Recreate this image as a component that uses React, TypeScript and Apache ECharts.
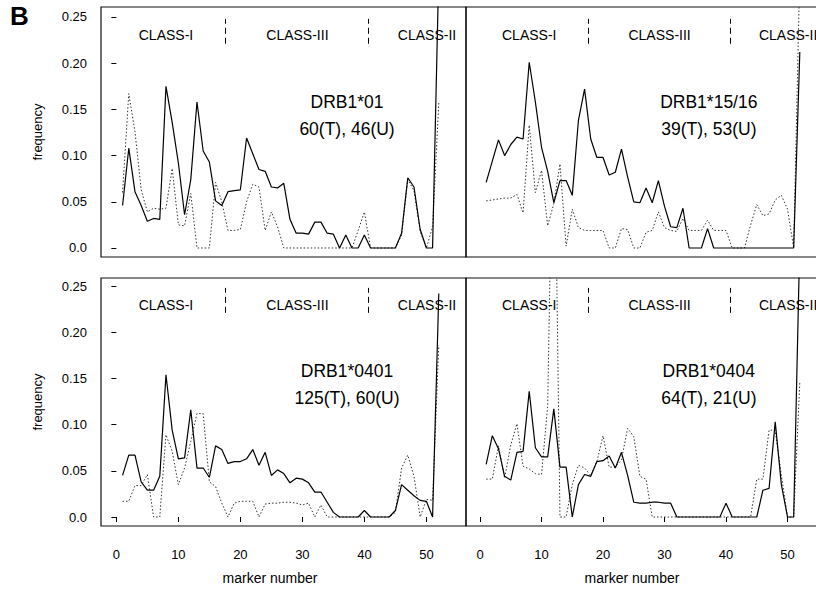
import React, { useEffect, useRef } from "react";
import * as echarts from "echarts";

// ---------- data ----------
const markers = [
  1, 2, 3, 4, 5, 6, 7, 8, 9, 10, 11, 12, 13, 14, 15, 16, 17, 18, 19, 20, 21, 22, 23, 24, 25, 26,
  27, 28, 29, 30, 31, 32, 33, 34, 35, 36, 37, 38, 39, 40, 41, 42, 43, 44, 45, 46, 47, 48, 49, 50, 51, 52,
];

const drb01T = [
  0.046, 0.108, 0.061, 0.046, 0.029, 0.032, 0.031, 0.175, 0.136, 0.092, 0.036, 0.074, 0.158,
  0.105, 0.093, 0.051, 0.046, 0.061, 0.062, 0.063, 0.119, 0.102, 0.085, 0.083, 0.066, 0.065,
  0.070, 0.031, 0.016, 0.016, 0.015, 0.028, 0.028, 0.016, 0.015, 0.0, 0.014, 0.0, 0.0, 0.014,
  0.0, 0.0, 0.0, 0.0, 0.0, 0.016, 0.076, 0.066, 0.020, 0.0, 0.0, 0.3,
];
const drb01U = [
  0.060, 0.167, 0.126, 0.063, 0.039, 0.043, 0.042, 0.043, 0.086, 0.025, 0.024, 0.059, 0.0,
  0.0, 0.0, 0.071, 0.050, 0.019, 0.019, 0.020, 0.050, 0.069, 0.066, 0.019, 0.039, 0.023,
  0.0, 0.0, 0.0, 0.0, 0.0, 0.0, 0.0, 0.0, 0.0, 0.0, 0.0, 0.0, 0.019, 0.039,
  0.0, 0.0, 0.0, 0.0, 0.0, 0.014, 0.074, 0.062, 0.018, 0.0, 0.023, 0.157,
];

const drb1516T = [
  0.071, 0.094, 0.117, 0.100, 0.112, 0.120, 0.118, 0.201, 0.158, 0.109, 0.083, 0.049, 0.073,
  0.073, 0.057, 0.138, 0.172, 0.118, 0.098, 0.098, 0.079, 0.082, 0.107, 0.077, 0.050, 0.049,
  0.065, 0.049, 0.073, 0.045, 0.023, 0.022, 0.043, 0.0, 0.0, 0.0, 0.021, 0.0, 0.0, 0.0,
  0.0, 0.0, 0.0, 0.0, 0.0, 0.0, 0.0, 0.0, 0.0, 0.0, 0.0, 0.212,
];
const drb1516U = [
  0.051, 0.052, 0.053, 0.054, 0.054, 0.058, 0.038, 0.133, 0.060, 0.084, 0.024, 0.048, 0.091,
  0.002, 0.042, 0.022, 0.019, 0.019, 0.019, 0.019, 0.0, 0.0, 0.021, 0.020, 0.0, 0.0,
  0.017, 0.019, 0.039, 0.022, 0.019, 0.018, 0.032, 0.019, 0.019, 0.019, 0.030, 0.019, 0.019, 0.019,
  0.0, 0.0, 0.0, 0.025, 0.047, 0.035, 0.037, 0.052, 0.057, 0.042, 0.0, 0.3,
];

const drb0401T = [
  0.045, 0.067, 0.067, 0.038, 0.029, 0.029, 0.044, 0.154, 0.094, 0.063, 0.064, 0.116, 0.053,
  0.053, 0.043, 0.077, 0.073, 0.058, 0.060, 0.060, 0.063, 0.073, 0.056, 0.070, 0.045, 0.051,
  0.047, 0.037, 0.042, 0.041, 0.037, 0.027, 0.027, 0.016, 0.005, 0.0, 0.0, 0.0, 0.0, 0.007,
  0.0, 0.0, 0.0, 0.0, 0.007, 0.035, 0.029, 0.023, 0.018, 0.017, 0.0, 0.242,
];
const drb0401U = [
  0.017, 0.017, 0.034, 0.034, 0.046, 0.0, 0.0, 0.089, 0.071, 0.035, 0.053, 0.082, 0.112,
  0.112, 0.038, 0.033, 0.015, 0.0, 0.015, 0.017, 0.017, 0.017, 0.0, 0.014, 0.015, 0.015,
  0.016, 0.016, 0.015, 0.013, 0.015, 0.0, 0.013, 0.0, 0.0, 0.0, 0.0, 0.0, 0.0, 0.0,
  0.0, 0.0, 0.0, 0.0, 0.005, 0.053, 0.067, 0.044, 0.0, 0.019, 0.018, 0.186,
];

const drb0404T = [
  0.057, 0.088, 0.074, 0.044, 0.040, 0.070, 0.071, 0.136, 0.075, 0.065, 0.065, 0.117, 0.054,
  0.054, 0.0, 0.035, 0.046, 0.044, 0.060, 0.061, 0.066, 0.053, 0.070, 0.045, 0.016, 0.015,
  0.015, 0.016, 0.016, 0.015, 0.015, 0.0, 0.0, 0.0, 0.0, 0.0, 0.0, 0.0, 0.0, 0.015,
  0.0, 0.0, 0.0, 0.0, 0.0, 0.029, 0.031, 0.103, 0.035, 0.0, 0.0, 0.3,
];
const drb0404U = [
  0.041, 0.041, 0.077, 0.042, 0.078, 0.101, 0.055, 0.052, 0.047, 0.046, 0.12, 0.5, 0.0,
  0.0, 0.035, 0.056, 0.053, 0.045, 0.060, 0.088, 0.054, 0.054, 0.062, 0.096, 0.087, 0.044,
  0.041, 0.0, 0.0, 0.0, 0.0, 0.0, 0.0, 0.0, 0.0, 0.0, 0.0, 0.0, 0.0, 0.0,
  0.0, 0.0, 0.0, 0.0, 0.041, 0.041, 0.094, 0.094, 0.045, 0.0, 0.0, 0.146,
];

const panelNames = ["DRB1*01", "DRB1*15/16", "DRB1*0401", "DRB1*0404"];
const panelCounts = ["60(T), 46(U)", "39(T), 53(U)", "125(T), 60(U)", "64(T), 21(U)"];
const panelT = [drb01T, drb1516T, drb0401T, drb0404T];
const panelU = [drb01U, drb1516U, drb0401U, drb0404U];

const classLabels = ["CLASS-I", "CLASS-III", "CLASS-II"];
const classLabelX = [8.0, 29.2, 50.1];
const classDividerX = [17.6, 40.7];

const yTicks = [0, 0.05, 0.1, 0.15, 0.2, 0.25];
const yTickLabels = ["0.0", "0.05", "0.10", "0.15", "0.20", "0.25"];
const xTicks = [0, 10, 20, 30, 40, 50];

// ---------- layout ----------
const FONT = "'Liberation Sans', Arial, Helvetica, sans-serif";
const CHART_W = 850;
const grids = [
  { left: 101, top: 7, width: 365, height: 250 },
  { left: 466, top: 7, width: 365, height: 250 },
  { left: 101, top: 278, width: 365, height: 248 },
  { left: 466, top: 278, width: 365, height: 248 },
];
const xRanges = [
  [-2.48, 56.39],
  [-2.28, 57.07],
  [-2.48, 56.39],
  [-2.28, 57.07],
];
const yRanges = [
  [-0.00974, 0.2608],
  [-0.00974, 0.2608],
  [-0.00974, 0.2587],
  [-0.00974, 0.2587],
];

export default function App() {
  const ref = useRef<HTMLDivElement>(null);

  useEffect(() => {
    if (!ref.current) return;
    const chart = echarts.init(ref.current, null, { renderer: "svg" });

    const xAxis = grids.map((_, i) => {
      const bottom = i >= 2;
      return {
        type: "value",
        gridIndex: i,
        min: xRanges[i][0],
        max: xRanges[i][1],
        axisLine: { show: false },
        splitLine: { show: false },
        axisTick: {
          show: bottom,
          inside: false,
          length: 5,
          customValues: xTicks,
          lineStyle: { color: "#000", width: 1 },
        },
        axisLabel: {
          show: bottom,
          customValues: xTicks,
          margin: 22,
          fontSize: 13,
          color: "#000",
          fontFamily: FONT,
        },
      };
    });

    const yAxis = grids.map((_, i) => {
      const left = i % 2 === 0;
      return {
        type: "value",
        gridIndex: i,
        min: yRanges[i][0],
        max: yRanges[i][1],
        axisLine: { show: false },
        splitLine: { show: false },
        name: left ? "frequency" : "",
        nameLocation: "middle",
        nameGap: 57,
        nameTextStyle: { fontSize: 13, color: "#000", fontFamily: FONT },
        axisTick: {
          show: left,
          inside: false,
          length: 5,
          customValues: yTicks,
          lineStyle: { color: "#000", width: 1 },
        },
        axisLabel: {
          show: left,
          customValues: yTicks,
          margin: 14,
          fontSize: 13,
          color: "#000",
          fontFamily: FONT,
          formatter: (v: number) => {
            const k = yTicks.findIndex((t) => Math.abs(t - v) < 1e-9);
            return k >= 0 ? yTickLabels[k] : "";
          },
        },
      };
    });

    const series: any[] = [];
    grids.forEach((_, i) => {
      series.push({
        type: "line",
        name: "T",
        xAxisIndex: i,
        yAxisIndex: i,
        data: markers.map((m, k) => [m, panelT[i][k]]),
        symbol: "none",
        clip: true,
        lineStyle: { color: "#000", width: 1.2 },
        z: 3,
        markLine: {
          silent: true,
          symbol: "none",
          label: { show: false },
          lineStyle: { color: "#000", width: 1, type: [6, 4] },
          data: classDividerX.map((x) => [
            { coord: [x, 0.221] },
            { coord: [x, 0.248] },
          ]),
        },
      });
      series.push({
        type: "line",
        name: "U",
        xAxisIndex: i,
        yAxisIndex: i,
        data: markers.map((m, k) => [m, panelU[i][k]]),
        symbol: "none",
        clip: true,
        lineStyle: { color: "#333", width: 1, type: [1.5, 2] },
        z: 2,
      });
      const labels: any[] = classLabels.map((t, k) => ({
        value: [classLabelX[k], 0.23],
        label: { formatter: t, fontSize: 14, color: "#000" },
      }));
      labels.push({
        value: [37.2, 0.158],
        label: { formatter: panelNames[i], fontSize: 17.5, color: "#000" },
      });
      labels.push({
        value: [37.2, 0.129],
        label: { formatter: panelCounts[i], fontSize: 17.5, color: "#000" },
      });
      series.push({
        type: "scatter",
        xAxisIndex: i,
        yAxisIndex: i,
        symbolSize: 0,
        silent: true,
        clip: false,
        z: 4,
        itemStyle: { opacity: 1 },
        label: {
          show: true,
          position: "inside",
          color: "#000",
          fontFamily: FONT,
        },
        data: labels,
      });
    });

    chart.setOption({
      animation: false,
      backgroundColor: "#fff",
      textStyle: { fontFamily: FONT },
      grid: grids.map((g) => ({
        ...g,
        show: true,
        borderColor: "#111",
        borderWidth: 1.2,
        backgroundColor: "transparent",
        containLabel: false,
      })),
      xAxis,
      yAxis,
      series,
      graphic: [
        {
          type: "text",
          left: 10,
          top: 3,
          style: { text: "B", font: `bold 26px ${FONT}`, fill: "#000" },
        },
        {
          type: "text",
          x: 270,
          y: 578,
          style: {
            text: "marker number",
            font: `14px ${FONT}`,
            fill: "#000",
            align: "center",
            verticalAlign: "middle",
          },
        },
        {
          type: "text",
          x: 632,
          y: 578,
          style: {
            text: "marker number",
            font: `14px ${FONT}`,
            fill: "#000",
            align: "center",
            verticalAlign: "middle",
          },
        },
      ],
    });

    return () => chart.dispose();
  }, []);

  return (
    <div
      style={{
        position: "fixed",
        left: 0,
        top: 0,
        width: 816,
        height: 589,
        overflow: "hidden",
        background: "#fff",
      }}
    >
      <div ref={ref} style={{ width: CHART_W, height: 589 }} />
    </div>
  );
}
